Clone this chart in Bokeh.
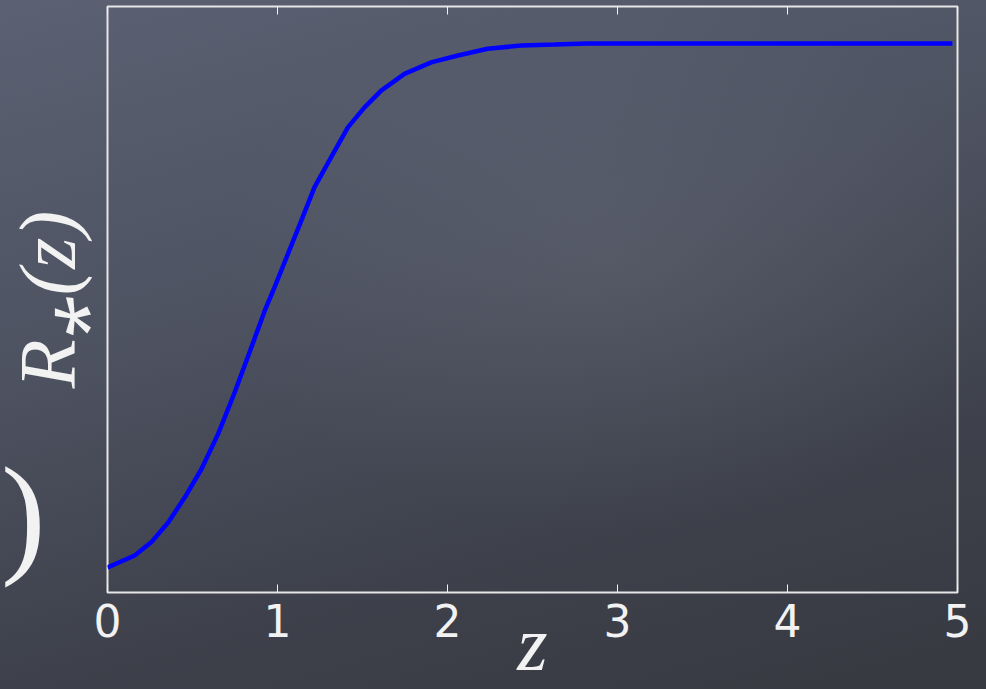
from bokeh.plotting import figure
from bokeh.models import Range1d, LinearAxis, Label, FixedTicker
from bokeh.embed import file_html
from bokeh.resources import INLINE

# data (normalised units; the chart has no y tick labels)
z_vals = [0.0, 0.16, 0.257, 0.357, 0.455, 0.553, 0.651, 0.749, 0.846, 0.925, 0.983,
          1.062, 1.140, 1.218, 1.316, 1.414, 1.512, 1.610, 1.747, 1.904, 2.061, 2.236,
          2.433, 2.63, 2.82, 3.30, 4.00, 4.97]
r_vals = [0.0, 0.023, 0.048, 0.086, 0.134, 0.188, 0.255, 0.335, 0.420, 0.490, 0.535,
          0.599, 0.662, 0.726, 0.783, 0.840, 0.878, 0.910, 0.942, 0.964, 0.977, 0.990,
          0.996, 0.998, 1.0, 1.0, 1.0, 1.0]
x_ticks = [0, 1, 2, 3, 4, 5]
x_label = "z"
y_label = "R\u204e(z)"
side_text = ")"

WHITE = "#f2f2f2"

p = figure(width=986, height=689,
           x_range=Range1d(0, 5), y_range=Range1d(-0.0477, 1.0706),
           output_backend="svg", toolbar_location=None,
           min_border_left=106, min_border_right=29, min_border_top=6, min_border_bottom=97,
           background_fill_alpha=0, border_fill_alpha=0)

p.grid.visible = False
p.outline_line_color = "#e6e6e6"
p.outline_line_width = 2

# bottom axis
ax = p.xaxis[0]
ax.ticker = x_ticks
ax.axis_line_color = None
ax.major_tick_in = 8
ax.major_tick_out = 0
ax.major_tick_line_color = WHITE
ax.minor_tick_line_color = None
ax.major_label_text_font = "DejaVu Sans"
ax.major_label_text_font_size = "44px"
ax.major_label_text_color = WHITE
ax.major_label_standoff = 11
ax.axis_label = x_label
ax.axis_label_text_font = "Liberation Serif"
ax.axis_label_text_font_style = "italic"
ax.axis_label_text_font_size = "78px"
ax.axis_label_text_color = WHITE
ax.axis_label_standoff = -40

# top ticks (no labels)
top = LinearAxis(ticker=x_ticks, axis_line_color=None, major_tick_in=8, major_tick_out=0,
                 major_tick_line_color=WHITE, minor_tick_line_color=None,
                 major_label_text_color=None, major_label_text_font_size="1px",
                 major_label_standoff=0)
p.add_layout(top, "above")

# left axis: title only
ay = p.yaxis[0]
ay.ticker = FixedTicker(ticks=[])
ay.axis_line_color = None
ay.major_tick_line_color = None
ay.minor_tick_line_color = None
ay.major_label_text_color = None
ay.major_label_standoff = 0
ay.axis_label = y_label
ay.axis_label_text_font = "Liberation Serif"
ay.axis_label_text_font_style = "italic"
ay.axis_label_text_font_size = "80px"
ay.axis_label_text_color = WHITE
ay.axis_label_standoff = -29

p.line(z_vals, r_vals, line_color="#0000ff", line_width=4.5)

# large bracket from the slide behind the chart, sitting in the left margin
paren = Label(x=-0.495, y=0.102, text=side_text, text_font="Liberation Serif",
              text_font_size="134px", text_color=WHITE,
              text_align="center", text_baseline="middle")
p.left = [paren] + list(p.left)

html = file_html(p, INLINE, title="R*(z)")
style = ("<style>html{background:"
         "radial-gradient(ellipse at 62% 38%, rgba(125,130,140,0.20), rgba(0,0,0,0) 45%),"
         "linear-gradient(165deg, #5b6172 0%, #4e5362 38%, #3e414b 72%, #373941 100%);}"
         "body{background:transparent;}</style>")
html = html.replace("</head>", style + "</head>", 1)
open("out.html", "w").write(html)
